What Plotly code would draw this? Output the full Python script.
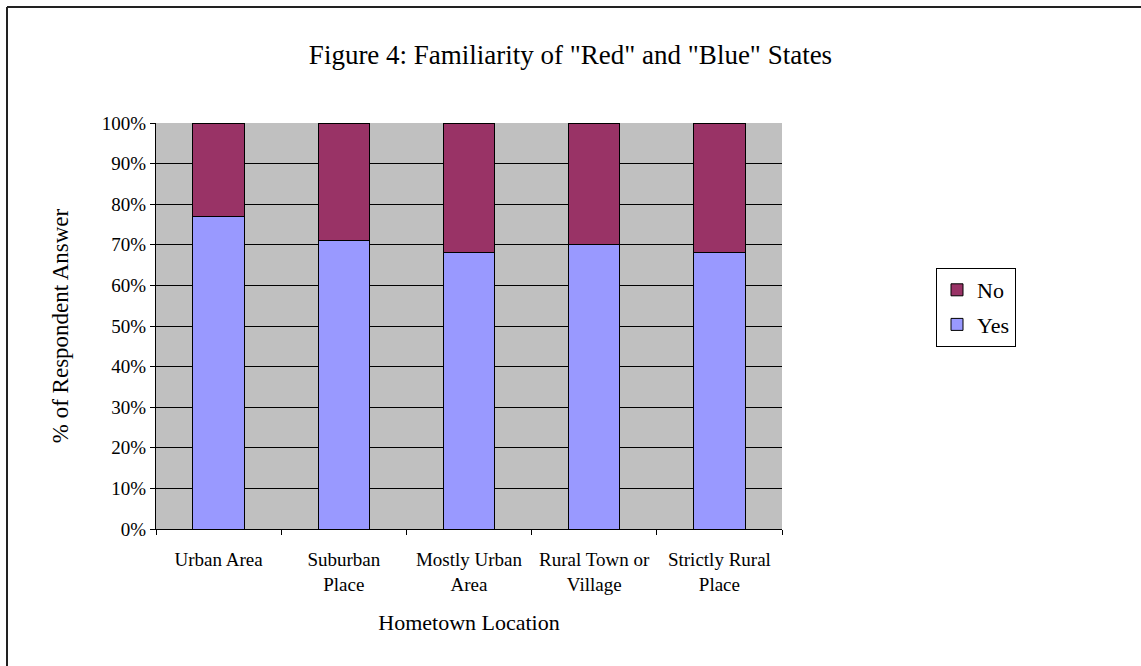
import plotly.graph_objects as go

categories = ["Urban Area", "Suburban<br>Place", "Mostly Urban<br>Area", "Rural Town or<br>Village", "Strictly Rural<br>Place"]
yes_pct = [77, 71, 68, 70, 68]
no_pct = [23, 29, 32, 30, 32]
y_ticks = [0, 10, 20, 30, 40, 50, 60, 70, 80, 90, 100]
y_tick_text = [f"{v}%" for v in y_ticks]

FONT = "Liberation Serif, Times New Roman, serif"

fig = go.Figure()
fig.add_trace(go.Bar(
    x=categories, y=yes_pct, name="Yes", legendgroup="yes", legendrank=2,
    marker=dict(color="#9999FF", line=dict(color="black", width=1)),
))
fig.add_trace(go.Bar(
    x=categories, y=no_pct, name="No", legendgroup="no", legendrank=1,
    marker=dict(color="#993366", line=dict(color="black", width=1)),
))

fig.update_layout(
    width=1141, height=666,
    barmode="stack", bargap=0.59,
    paper_bgcolor="white", plot_bgcolor="#C0C0C0",
    margin=dict(l=156, r=359, t=123, b=137),
    font=dict(family=FONT, size=19, color="black"),
    title=dict(text='Figure 4: Familiarity of "Red" and "Blue" States',
               x=0.5, xanchor="center", y=1 - 55 / 666, yanchor="middle",
               font=dict(size=27, family=FONT)),
    showlegend=True,
    legend=dict(x=(936 - 156) / 626, y=(529 - 268) / 406, xanchor="left", yanchor="top",
                traceorder="grouped", bordercolor="black", borderwidth=1,
                bgcolor="white", font=dict(size=22, family=FONT),
                itemwidth=30, tracegroupgap=3),
    xaxis=dict(
        showline=True, linecolor="black", linewidth=1,
        ticks="outside", tickson="boundaries", ticklen=5, tickcolor="black",
        showgrid=False, tickfont=dict(size=19), ticklabelstandoff=13,
        title=dict(text="Hometown Location", font=dict(size=22), standoff=21),
    ),
    yaxis=dict(
        range=[0, 100], tickvals=y_ticks, ticktext=y_tick_text,
        showline=True, linecolor="black", linewidth=1,
        ticks="outside", ticklen=5, tickcolor="black",
        showgrid=True, gridcolor="black", gridwidth=1, zeroline=False,
        tickfont=dict(size=19),
        title=dict(text="% of Respondent Answer", font=dict(size=23), standoff=26),
    ),
)

# Frame lines along the top and left edges of the chart
frame = dict(type="line", xref="paper", yref="paper", line=dict(color="#222222", width=2))
fig.add_shape(**frame, x0=(7 - 156) / 626, x1=(1141 - 156) / 626,
              y0=(529 - 7) / 406, y1=(529 - 7) / 406)
fig.add_shape(**frame, x0=(7 - 156) / 626, x1=(7 - 156) / 626,
              y0=(529 - 7) / 406, y1=(529 - 666) / 406)

fig.write_html("out.html")
